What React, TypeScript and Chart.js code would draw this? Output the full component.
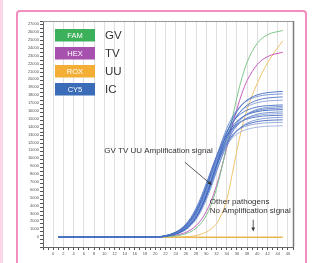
import React, { useEffect, useRef } from 'react';
import { Chart, registerables } from 'chart.js';

Chart.register(...registerables);

// ---- data ----
const cycles = [1, 20, 22, 24, 25, 26, 27, 28, 29, 30, 31, 32, 33, 34, 35, 36, 37, 38, 40, 42, 45];

const icCurves = [
  [0, 0, 120, 400, 660, 1060, 1660, 2520, 3710, 5260, 7140, 9220, 11300, 13180, 14730, 15920, 16780, 17380, 18040, 18320, 18470],
  [0, 0, 150, 490, 810, 1290, 2000, 3000, 4350, 6050, 8020, 10090, 12060, 13760, 15110, 16110, 16810, 17300, 17830, 18050, 18160],
  [0, 0, 110, 380, 640, 1020, 1600, 2420, 3570, 5070, 6870, 8870, 10870, 12680, 14180, 15320, 16150, 16730, 17360, 17640, 17780],
  [0, 0, 140, 470, 770, 1240, 1910, 2870, 4160, 5790, 7670, 9650, 11530, 13160, 14450, 15400, 16080, 16540, 17050, 17260, 17370],
  [0, 0, 170, 560, 920, 1470, 2250, 3330, 4740, 6450, 8340, 10230, 11930, 13350, 14430, 15210, 15750, 16110, 16510, 16670, 16760],
  [0, 0, 100, 360, 590, 950, 1490, 2260, 3330, 4730, 6410, 8280, 10140, 11830, 13230, 14300, 15070, 15600, 16200, 16450, 16580],
  [0, 0, 130, 440, 730, 1170, 1800, 2700, 3920, 5460, 7230, 9090, 10870, 12400, 13620, 14520, 15160, 15600, 16070, 16270, 16380],
  [0, 0, 160, 540, 890, 1410, 2170, 3210, 4570, 6220, 8040, 9860, 11510, 12870, 13910, 14670, 15190, 15540, 15920, 16080, 16160],
  [0, 0, 130, 430, 710, 1130, 1750, 2620, 3800, 5290, 7010, 8820, 10540, 12030, 13210, 14080, 14700, 15120, 15590, 15780, 15880],
  [0, 0, 150, 520, 860, 1370, 2100, 3110, 4430, 6030, 7790, 9560, 11150, 12480, 13490, 14220, 14730, 15070, 15430, 15590, 15670],
  [0, 0, 190, 640, 1050, 1660, 2510, 3660, 5110, 6790, 8550, 10230, 11680, 12830, 13680, 14290, 14700, 14970, 15260, 15390, 15450],
  [0, 0, 120, 410, 680, 1080, 1670, 2510, 3640, 5060, 6700, 8430, 10080, 11500, 12630, 13470, 14060, 14460, 14900, 15090, 15190],
  [0, 0, 150, 500, 820, 1300, 2000, 2950, 4210, 5720, 7400, 9080, 10590, 11850, 12800, 13500, 13980, 14300, 14650, 14800, 14870],
  [0, 0, 180, 600, 990, 1560, 2360, 3450, 4810, 6400, 8060, 9640, 11000, 12090, 12890, 13460, 13850, 14110, 14380, 14500, 14560],
  [0, 0, 170, 590, 960, 1510, 2290, 3340, 4670, 6200, 7810, 9340, 10670, 11720, 12500, 13050, 13430, 13670, 13940, 14060, 14110],
];

const gvCurve = [0, 0, 40, 150, 260, 430, 700, 1120, 1770, 2750, 4170, 6130, 8650, 11610, 14740, 17700, 20220, 22180, 24580, 25650, 26200];
const tvCurve = [0, 0, 70, 230, 380, 600, 940, 1450, 2190, 3240, 4670, 6530, 8780, 11290, 13840, 16220, 18240, 19840, 21890, 22880, 23440];
const uuCurve = [0, 0, 0, 20, 40, 60, 100, 200, 380, 650, 1050, 1700, 2900, 4700, 7700, 11000, 13900, 16200, 19500, 22100, 24900];

const negCycles = [1, 45];
const negValues = [0, 0];

const xTickLabels = [0, 2, 4, 6, 8, 10, 12, 14, 16, 18, 20, 22, 24, 26, 28, 30, 32, 34, 36, 38, 40, 42, 44, 46];
const yTickLabels = [
  0, 1000, 2000, 3000, 4000, 5000, 6000, 7000, 8000, 9000, 10000, 11000, 12000, 13000,
  14000, 15000, 16000, 17000, 18000, 19000, 20000, 21000, 22000, 23000, 24000, 25000, 26000, 27000,
];

const channels = ['FAM', 'HEX', 'ROX', 'CY5'];
const targets = ['GV', 'TV', 'UU', 'IC'];
const channelColors = ['#3cb05a', '#a651ad', '#f4ae36', '#3b6cb8'];

const annotationMain = 'GV TV UU Amplification signal';
const annotationNeg1 = 'Other pathogens';
const annotationNeg2 = 'No Amplification signal';

const blueShades = [
  'rgba(58,102,191,0.85)', 'rgba(91,127,203,0.8)', 'rgba(70,112,196,0.85)', 'rgba(122,150,212,0.8)',
  'rgba(62,104,192,0.85)', 'rgba(103,134,206,0.8)', 'rgba(75,115,197,0.85)', 'rgba(47,92,184,0.85)',
  'rgba(95,128,203,0.8)', 'rgba(135,160,216,0.8)', 'rgba(65,105,193,0.85)', 'rgba(108,139,208,0.8)',
  'rgba(57,96,187,0.85)', 'rgba(125,152,213,0.8)', 'rgba(150,172,222,0.85)',
];

const FONT = '"Liberation Sans", Arial, sans-serif';

const toPoints = (xs: number[], ys: number[]) => xs.map((x, i) => ({ x, y: ys[i] }));

const framePlugin = {
  id: 'frame',
  beforeDraw(chart: any) {
    const ctx = chart.ctx;
    ctx.save();
    ctx.fillStyle = '#ffffff';
    ctx.fillRect(0, 0, chart.width, chart.height);
    ctx.fillStyle = '#fbd6e7';
    ctx.fillRect(0, 0, 3, chart.height);
    ctx.strokeStyle = '#f38cbf';
    ctx.lineWidth = 2;
    ctx.beginPath();
    ctx.roundRect(17, 11, 289, 300, 3);
    ctx.stroke();
    ctx.restore();
  },
};

function arrow(ctx: CanvasRenderingContext2D, x1: number, y1: number, x2: number, y2: number) {
  const ang = Math.atan2(y2 - y1, x2 - x1);
  const len = 4;
  const wid = 1.8;
  ctx.beginPath();
  ctx.moveTo(x1, y1);
  ctx.lineTo(x2 - Math.cos(ang) * len * 0.8, y2 - Math.sin(ang) * len * 0.8);
  ctx.stroke();
  ctx.beginPath();
  ctx.moveTo(x2, y2);
  ctx.lineTo(x2 - Math.cos(ang) * len + Math.sin(ang) * wid, y2 - Math.sin(ang) * len - Math.cos(ang) * wid);
  ctx.lineTo(x2 - Math.cos(ang) * len - Math.sin(ang) * wid, y2 - Math.sin(ang) * len + Math.cos(ang) * wid);
  ctx.closePath();
  ctx.fill();
}

const overlayPlugin = {
  id: 'overlay',
  afterDatasetsDraw(chart: any) {
    const { ctx, chartArea: a, scales } = chart;
    const xs = scales.x;
    const ys = scales.y;
    ctx.save();
    // plot box
    ctx.strokeStyle = '#9a9a9a';
    ctx.lineWidth = 1;
    ctx.beginPath();
    ctx.moveTo(a.left, a.top + 0.5);
    ctx.lineTo(a.right, a.top + 0.5);
    ctx.stroke();
    ctx.strokeStyle = '#7a7a7a';
    ctx.lineWidth = 1.5;
    ctx.beginPath();
    ctx.moveTo(a.right + 0.5, a.top);
    ctx.lineTo(a.right + 0.5, a.bottom);
    ctx.stroke();

    // y tick labels
    ctx.fillStyle = '#555555';
    ctx.font = `4px ${FONT}`;
    ctx.textAlign = 'right';
    ctx.textBaseline = 'middle';
    yTickLabels.forEach((v) => {
      ctx.fillText(String(v), a.left - 4, ys.getPixelForValue(v));
    });

    // channel legend
    channels.forEach((ch, i) => {
      const top = a.top + 8 + i * 18;
      const left = a.left + 12;
      ctx.fillStyle = channelColors[i];
      ctx.fillRect(left, top, 40, 12.5);
      ctx.fillStyle = '#ffffff';
      ctx.font = `7.5px ${FONT}`;
      ctx.textAlign = 'center';
      ctx.textBaseline = 'middle';
      ctx.fillText(ch, left + 20, top + 6.5);
      ctx.fillStyle = '#333333';
      ctx.font = `11.5px ${FONT}`;
      ctx.textAlign = 'left';
      ctx.fillText(targets[i], left + 50, top + 7);
    });

    // annotations
    ctx.fillStyle = '#333333';
    ctx.strokeStyle = '#333333';
    ctx.lineWidth = 0.8;
    ctx.font = `8px ${FONT}`;
    ctx.textAlign = 'left';
    ctx.textBaseline = 'middle';
    ctx.fillText(annotationMain, xs.getPixelForValue(10), ys.getPixelForValue(11000));
    arrow(ctx, xs.getPixelForValue(25.8), ys.getPixelForValue(9500), xs.getPixelForValue(31.1), ys.getPixelForValue(6600));
    ctx.fillText(annotationNeg1, xs.getPixelForValue(30.7), ys.getPixelForValue(4500));
    ctx.fillText(annotationNeg2, xs.getPixelForValue(30.7), ys.getPixelForValue(3350));
    arrow(ctx, xs.getPixelForValue(39.2), ys.getPixelForValue(2200), xs.getPixelForValue(39.2), ys.getPixelForValue(700));
    ctx.restore();
  },
};

export default function App() {
  const ref = useRef<HTMLCanvasElement | null>(null);

  useEffect(() => {
    if (!ref.current) return;
    const line = (data: any[], color: string, width = 1) => ({
      data,
      borderColor: color,
      backgroundColor: color,
      borderWidth: width,
      pointRadius: 0,
      fill: false,
      cubicInterpolationMode: 'monotone' as const,
    });
    const datasets: any[] = [
      ...icCurves.map((c, i) => line(toPoints(cycles, c), blueShades[i % blueShades.length])),
      line(toPoints(cycles, gvCurve), 'rgba(120,196,134,0.95)'),
      line(toPoints(cycles, tvCurve), 'rgba(196,84,190,0.95)'),
      line(toPoints(cycles, uuCurve), 'rgba(240,192,100,0.95)'),
      line(toPoints(negCycles, negValues), '#e9b84c', 1.5),
    ];

    const chart = new Chart(ref.current, {
      type: 'line',
      data: { datasets },
      plugins: [framePlugin, overlayPlugin],
      options: {
        responsive: false,
        animation: false,
        devicePixelRatio: 1,
        layout: { padding: { left: 16, top: 21, right: 24, bottom: 4 } },
        plugins: { legend: { display: false }, tooltip: { enabled: false } },
        scales: {
          x: {
            type: 'linear',
            min: -2,
            max: 47,
            afterFit: (s: any) => { s.height = 12; },
            ticks: {
              stepSize: 1,
              autoSkip: false,
              maxRotation: 0,
              includeBounds: false,
              padding: 1,
              color: '#555',
              font: { size: 4, family: FONT },
              callback: (v: any) => (Number.isInteger(Number(v)) && xTickLabels.includes(Number(v)) ? String(v) : ''),
            },
            grid: {
              color: (c: any) => (c.tick && xTickLabels.includes(c.tick.value) ? '#e0e0e0' : 'rgba(0,0,0,0)'),
              tickColor: '#555',
              tickLength: 3,
              lineWidth: 1,
            },
            border: { color: '#666', width: 1 },
          },
          y: {
            type: 'linear',
            min: -1250,
            max: 27400,
            afterFit: (s: any) => { s.width = 27; },
            ticks: {
              stepSize: 500,
              autoSkip: false,
              includeBounds: false,
              padding: 1,
              callback: () => '',
            },
            grid: {
              color: (c: any) => (c.tick && Math.round(c.tick.value) % 1000 === 0 ? '#e0e0e0' : 'rgba(0,0,0,0)'),
              tickColor: '#555',
              tickLength: 3,
              lineWidth: 1,
            },
            border: { color: '#666', width: 1 },
          },
        },
      } as any,
    });
    return () => chart.destroy();
  }, []);

  return (
    <div style={{ position: 'fixed', left: 0, top: 0, width: 317, height: 263 }}>
      <canvas ref={ref} width={317} height={263} style={{ display: 'block' }} />
    </div>
  );
}
